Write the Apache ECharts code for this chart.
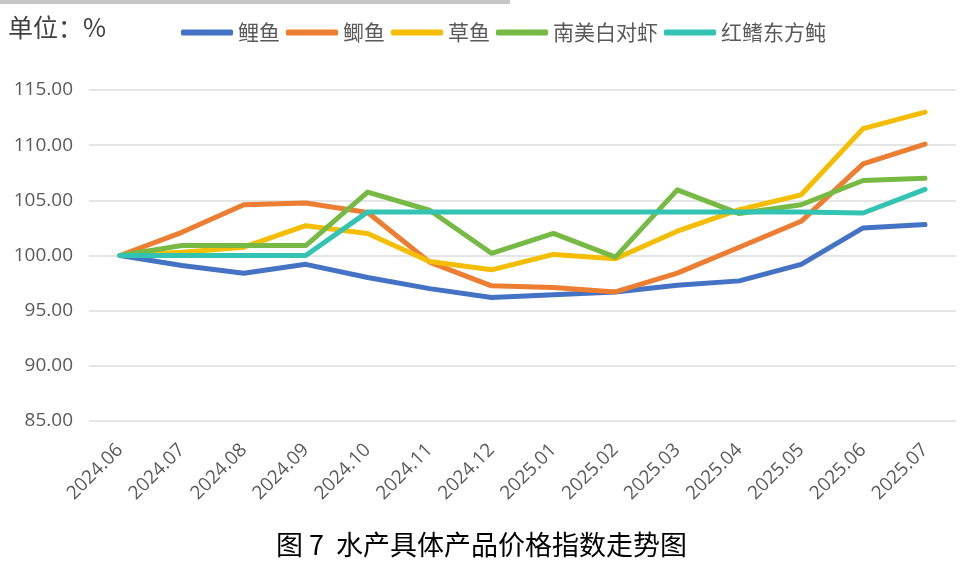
<!DOCTYPE html>
<html>
<head>
<meta charset="utf-8">
<script src="https://cdn.jsdelivr.net/npm/echarts@6/dist/echarts.min.js"></script>
<style>
html,body{margin:0;padding:0;background:#fff;}
#main{width:963px;height:569px;}
</style>
</head>
<body>
<div id="main"></div>
<script>
const categories = ['2024.06','2024.07','2024.08','2024.09','2024.10','2024.11','2024.12','2025.01','2025.02','2025.03','2025.04','2025.05','2025.06','2025.07'];
const seriesNames = ['鲤鱼','鲫鱼','草鱼','南美白对虾','红鳍东方鲀'];
const carp      = [100, 99.1, 98.4, 99.2, 98.0, 97.0, 96.2, 96.45, 96.7, 97.3, 97.7, 99.2, 102.5, 102.8];
const crucian   = [100, 102.1, 104.6, 104.75, 103.9, 99.4, 97.25, 97.1, 96.7, 98.4, 100.75, 103.1, 108.3, 110.1];
const grassCarp = [100, 100.3, 100.75, 102.7, 102.0, 99.45, 98.7, 100.1, 99.7, 102.2, 104.15, 105.5, 111.5, 113.0];
const shrimp    = [100, 100.9, 100.9, 100.9, 105.75, 104.1, 100.2, 102.0, 99.85, 105.95, 103.8, 104.6, 106.8, 107.0];
const puffer    = [100, 100, 100, 100, 103.95, 103.95, 103.95, 103.95, 103.95, 103.95, 103.95, 103.95, 103.85, 106.0];
const yTicks = {min: 85, max: 115, interval: 5};
const colors = ['#4472C4','#ED7D31','#F5BD00','#76BA43','#33C3B3'];
const unitText = '单位：%';
const titleText = '图 7  水产具体产品价格指数走势图';

const dataList = [carp, crucian, grassCarp, shrimp, puffer];
const chart = echarts.init(document.getElementById('main'));
chart.setOption({
  animation: false,
  color: colors,
  graphic: [
    {type: 'rect', left: 0, top: 0, shape: {width: 510, height: 4}, style: {fill: '#c6c6c6'}},
    {type: 'text', left: 8, top: 15, style: {text: unitText, fill: '#404040', font: '25px "Noto Sans CJK SC", sans-serif'}},
    {type: 'text', left: 'center', top: 531, style: {text: titleText, fill: '#000', font: '27px "Noto Sans CJK SC", sans-serif'}}
  ],
  legend: {
    left: 176, top: 17,
    itemWidth: 52, itemHeight: 6, itemGap: 6,
    icon: 'roundRect',
    data: seriesNames,
    textStyle: {fontSize: 21, color: '#595959', fontFamily: '"Noto Sans CJK SC", sans-serif', padding: [0,0,0,0]}
  },
  grid: {left: 89, right: 7, top: 90, bottom: 148, containLabel: false},
  xAxis: {
    type: 'category', data: categories, boundaryGap: true,
    axisLine: {show: false}, axisTick: {show: false},
    axisLabel: {rotate: 45, margin: 26, fontSize: 19, color: '#595959', fontFamily: '"Open Sans", sans-serif', interval: 0}
  },
  yAxis: {
    type: 'value', min: yTicks.min, max: yTicks.max, interval: yTicks.interval,
    axisLine: {show: false}, axisTick: {show: false},
    axisLabel: {margin: 16, fontSize: 19, color: '#595959', fontFamily: '"Open Sans", sans-serif', formatter: v => v.toFixed(2)},
    splitLine: {lineStyle: {color: '#dcdcdc', width: 1.5}}
  },
  series: seriesNames.map((n, i) => ({
    name: n, type: 'line', data: dataList[i], symbol: 'none',
    lineStyle: {width: 5, color: colors[i], cap: 'round', join: 'round'},
    itemStyle: {color: colors[i]}
  }))
});
</script>
</body>
</html>
